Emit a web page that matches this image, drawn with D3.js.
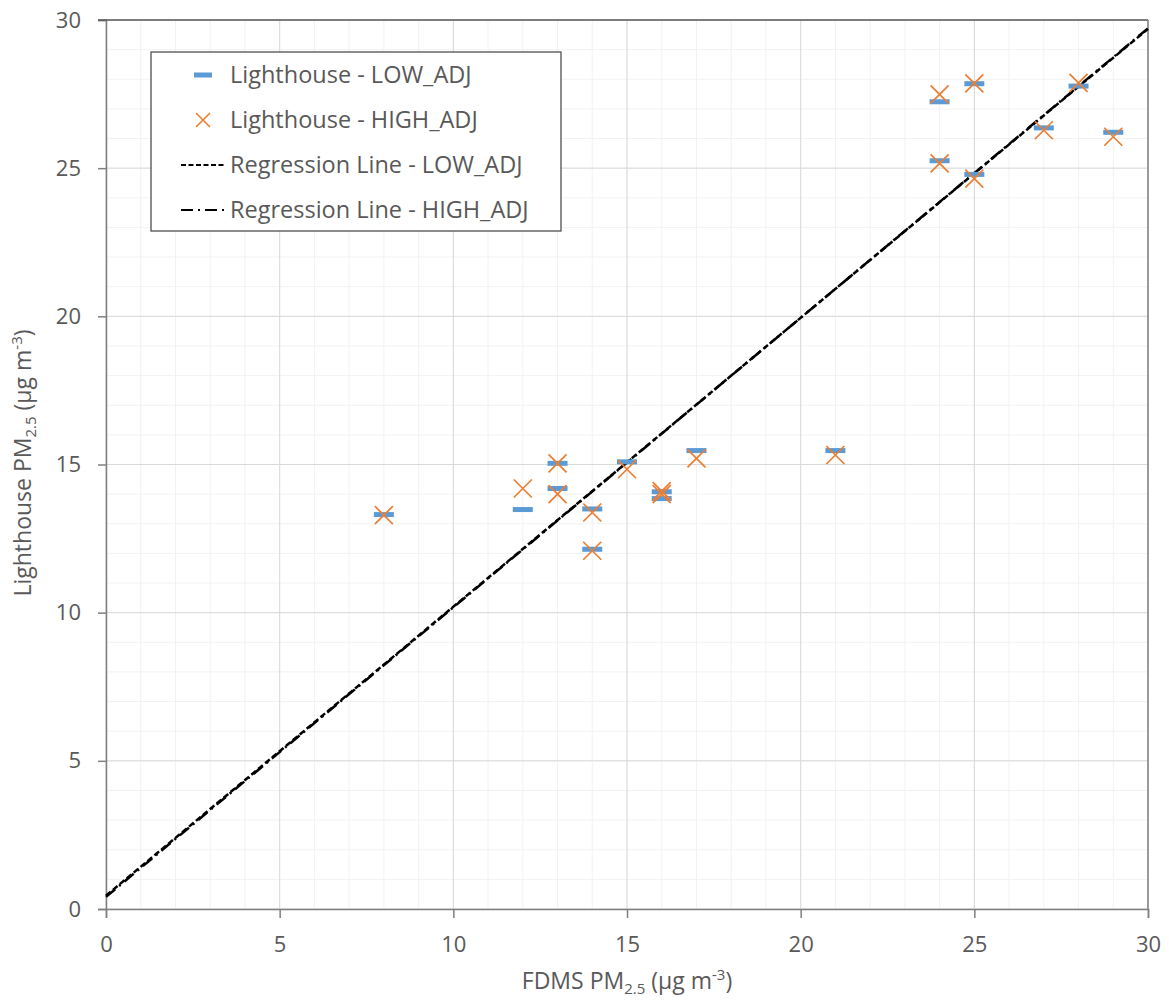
<!DOCTYPE html>
<html>
<head>
<meta charset="utf-8">
<script src="https://cdn.jsdelivr.net/npm/d3@7"></script>
<style>
  body { margin: 0; background: #fff; }
  text { font-family: "Open Sans", "Noto Sans", sans-serif; fill: #595959; }
</style>
</head>
<body>
<script>
// data
const fdms = [8, 12, 13, 13, 14, 14, 15, 16, 16, 17, 21, 24, 24, 25, 25, 27, 28, 29];
const lowAdj = [13.31, 13.48, 15.04, 14.19, 13.50, 12.14, 15.09, 14.08, 13.85, 15.47, 15.47, 27.24, 25.25, 27.85, 24.79, 26.36, 27.77, 26.21];
const highAdj = [13.29, 14.19, 15.04, 14.00, 13.38, 12.09, 14.84, 14.10, 14.00, 15.21, 15.32, 27.49, 25.16, 27.86, 24.65, 26.28, 27.88, 26.06];
const regLow = [0.45, 0.975];   // intercept, slope
const regHigh = [0.41, 0.977];
const ticks = [0, 5, 10, 15, 20, 25, 30];

const legendItems = [
  {label: "Lighthouse - LOW_ADJ", kind: "bar"},
  {label: "Lighthouse - HIGH_ADJ", kind: "x"},
  {label: "Regression Line - LOW_ADJ", kind: "dash"},
  {label: "Regression Line - HIGH_ADJ", kind: "dashdot"}
];

const width = 1169, height = 1001;
const pLeft = 106, pRight = 1148, pTop = 20, pBottom = 909;

const svg = d3.select('body').append('svg')
  .attr('width', width)
  .attr('height', height);

const x = d3.scaleLinear().domain([0, 30]).range([pLeft, pRight]);
const y = d3.scaleLinear().domain([0, 30]).range([pBottom, pTop]);

// minor grid
const minor = d3.range(0, 31, 1);
svg.append('g').selectAll('line.vmin').data(minor).enter().append('line')
  .attr('x1', d => x(d)).attr('x2', d => x(d))
  .attr('y1', pTop).attr('y2', pBottom)
  .attr('stroke', '#f2f2f2').attr('stroke-width', 1);
svg.append('g').selectAll('line.hmin').data(minor).enter().append('line')
  .attr('x1', pLeft).attr('x2', pRight)
  .attr('y1', d => y(d)).attr('y2', d => y(d))
  .attr('stroke', '#f2f2f2').attr('stroke-width', 1);

// major grid
svg.append('g').selectAll('line.vmaj').data(ticks).enter().append('line')
  .attr('x1', d => x(d)).attr('x2', d => x(d))
  .attr('y1', pTop).attr('y2', pBottom)
  .attr('stroke', '#d9d9d9').attr('stroke-width', 1);
svg.append('g').selectAll('line.hmaj').data(ticks).enter().append('line')
  .attr('x1', pLeft).attr('x2', pRight)
  .attr('y1', d => y(d)).attr('y2', d => y(d))
  .attr('stroke', '#d9d9d9').attr('stroke-width', 1);

// axes
const xAxis = d3.axisBottom(x).tickValues(ticks).tickSize(9).tickPadding(18);
const yAxis = d3.axisLeft(y).tickValues(ticks).tickSize(8).tickPadding(17);

const gx = svg.append('g').attr('transform', `translate(0,${pBottom})`).call(xAxis);
const gy = svg.append('g').attr('transform', `translate(${pLeft},0)`).call(yAxis);
[gx, gy].forEach(g => {
  g.select('.domain').attr('stroke', '#7f7f7f').attr('stroke-width', 1.5);
  g.selectAll('.tick line').attr('stroke', '#7f7f7f').attr('stroke-width', 1.5);
  g.selectAll('.tick text').style('font-size', '22px').attr('fill', '#595959')
    .style('font-family', '"Open Sans", sans-serif');
});

// top and right frame
svg.append('line').attr('x1', pLeft - 8).attr('x2', pRight).attr('y1', pTop).attr('y2', pTop)
  .attr('stroke', '#595959').attr('stroke-width', 1.5);
svg.append('line').attr('x1', pRight).attr('x2', pRight).attr('y1', pTop).attr('y2', pBottom)
  .attr('stroke', '#7f7f7f').attr('stroke-width', 1.5);

// regression lines
const line = d3.line().x(d => x(d[0])).y(d => y(d[1]));
svg.append('path')
  .datum([0, 30].map(v => [v, regLow[0] + regLow[1] * v]))
  .attr('d', line).attr('fill', 'none')
  .attr('stroke', '#000').attr('stroke-width', 2.5)
  .attr('stroke-dasharray', '6,3');
svg.append('path')
  .datum([0, 30].map(v => [v, regHigh[0] + regHigh[1] * v]))
  .attr('d', line).attr('fill', 'none')
  .attr('stroke', '#000').attr('stroke-width', 2.5)
  .attr('stroke-dasharray', '12,5,2,5');

// LOW_ADJ markers (blue dashes)
svg.append('g').selectAll('rect').data(fdms).enter().append('rect')
  .attr('x', d => x(d) - 10)
  .attr('y', (d, i) => y(lowAdj[i]) - 2.5)
  .attr('width', 20).attr('height', 5)
  .attr('fill', '#5b9bd5');

// HIGH_ADJ markers (orange crosses)
const cross = svg.append('g');
fdms.forEach((d, i) => {
  const cx = x(d), cy = y(highAdj[i]), s = 9;
  cross.append('path')
    .attr('d', `M${cx - s},${cy - s}L${cx + s},${cy + s}M${cx - s},${cy + s}L${cx + s},${cy - s}`)
    .attr('stroke', '#ed7d31').attr('stroke-width', 1.7).attr('fill', 'none');
});

// legend
const lg = svg.append('g');
lg.append('rect').attr('x', 151).attr('y', 52).attr('width', 410).attr('height', 179)
  .attr('fill', '#fff').attr('stroke', '#404040').attr('stroke-width', 1.2);
legendItems.forEach((it, i) => {
  const cy = 75 + i * 45;
  if (it.kind === 'bar') {
    lg.append('rect').attr('x', 194).attr('y', cy - 2.5).attr('width', 18).attr('height', 5).attr('fill', '#5b9bd5');
  } else if (it.kind === 'x') {
    lg.append('path').attr('d', `M196,${cy - 7}L210,${cy + 7}M196,${cy + 7}L210,${cy - 7}`)
      .attr('stroke', '#ed7d31').attr('stroke-width', 1.6);
  } else if (it.kind === 'dash') {
    lg.append('line').attr('x1', 181).attr('x2', 226).attr('y1', cy).attr('y2', cy)
      .attr('stroke', '#000').attr('stroke-width', 2).attr('stroke-dasharray', '5,2.5');
  } else {
    lg.append('line').attr('x1', 181).attr('x2', 226).attr('y1', cy).attr('y2', cy)
      .attr('stroke', '#000').attr('stroke-width', 2).attr('stroke-dasharray', '12,5,2,5');
  }
  lg.append('text').attr('x', 230).attr('y', cy).attr('dy', '0.35em')
    .style('font-size', '23.5px').text(it.label);
});

// axis titles
const xt = svg.append('text').attr('x', 627).attr('y', 989).attr('text-anchor', 'middle')
  .style('font-size', '23px');
xt.append('tspan').text('FDMS PM');
xt.append('tspan').attr('dy', 5).style('font-size', '15px').text('2.5');
xt.append('tspan').attr('dy', -5).text(' (\u00b5g m');
xt.append('tspan').attr('dy', -9).style('font-size', '15px').text('-3');
xt.append('tspan').attr('dy', 9).text(')');

const yt = svg.append('text').attr('transform', 'translate(31,463) rotate(-90)')
  .attr('text-anchor', 'middle').style('font-size', '23px');
yt.append('tspan').text('Lighthouse PM');
yt.append('tspan').attr('dy', 5).style('font-size', '15px').text('2.5');
yt.append('tspan').attr('dy', -5).text(' (\u00b5g m');
yt.append('tspan').attr('dy', -9).style('font-size', '15px').text('-3');
yt.append('tspan').attr('dy', 9).text(')');
</script>
</body>
</html>
